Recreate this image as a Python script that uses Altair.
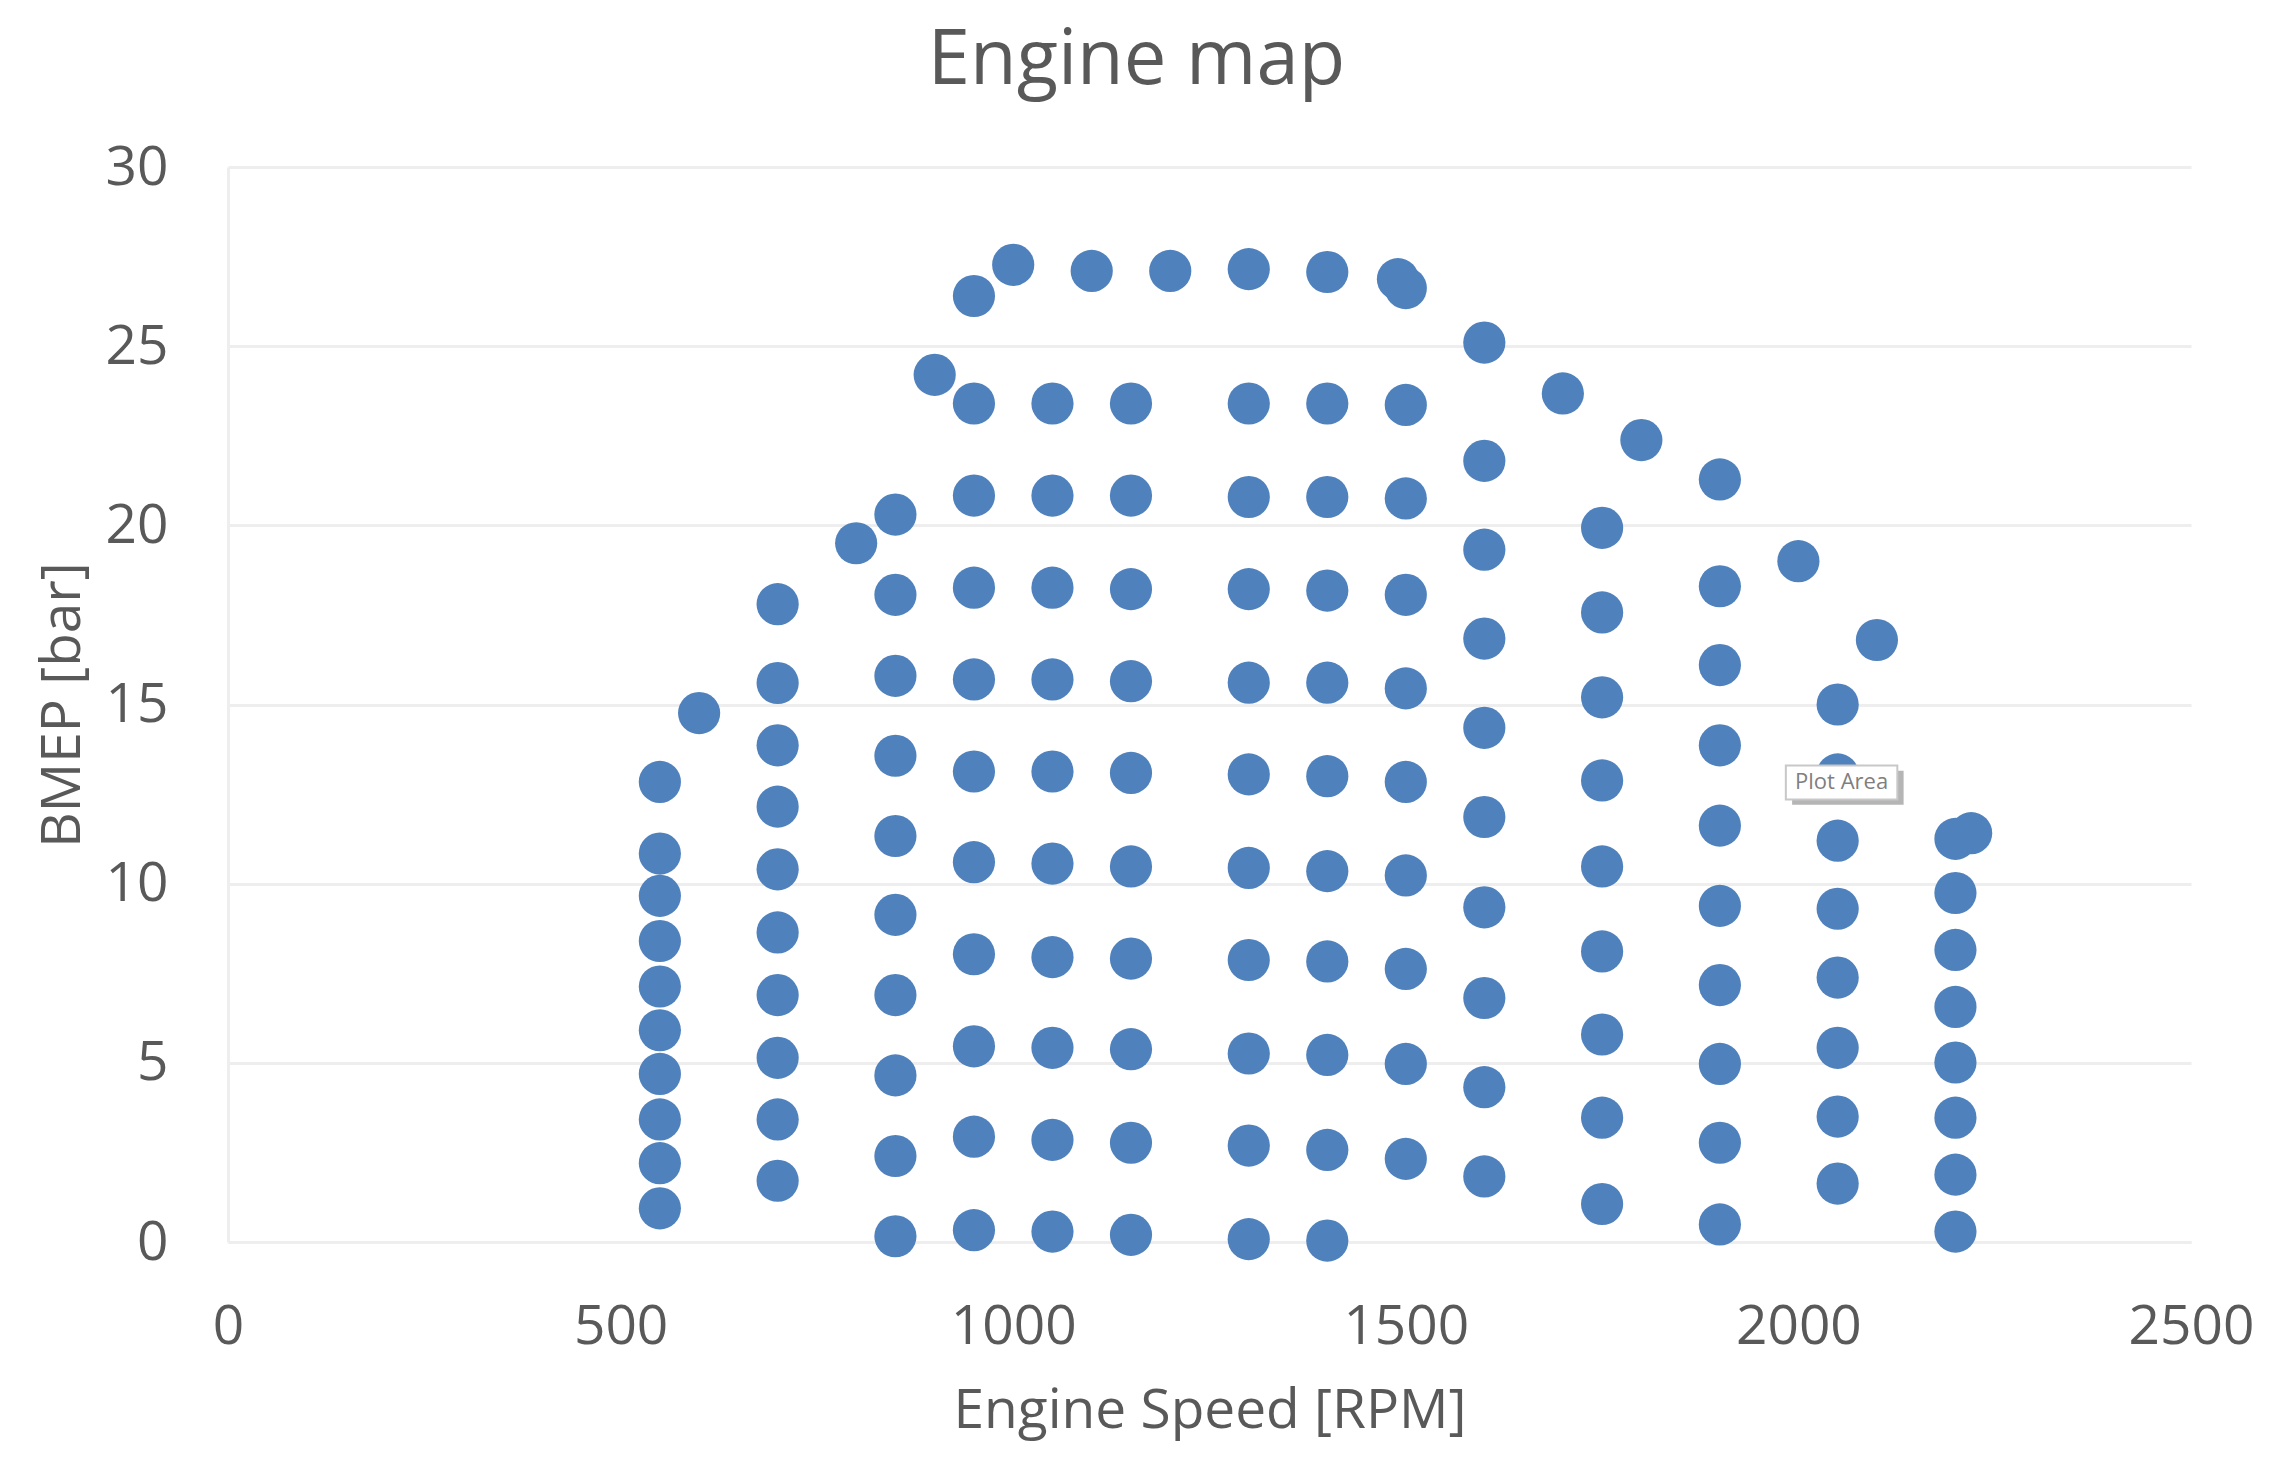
import altair as alt
import pandas as pd

# BMEP readings per engine speed column
speeds = [550, 600, 700, 800, 850, 900, 950, 1000, 1050, 1100, 1150, 1200, 1300, 1400,
          1490, 1500, 1600, 1700, 1750, 1800, 1900, 2000, 2050, 2100, 2200, 2220]
bmep = [
    [12.84, 10.84, 9.66, 8.40, 7.13, 5.91, 4.69, 3.42, 2.20, 0.94],
    [14.76],
    [17.8, 15.6, 13.86, 12.15, 10.4, 8.64, 6.89, 5.14, 3.42, 1.71],
    [19.5],
    [20.3, 18.06, 15.8, 13.57, 11.33, 9.13, 6.89, 4.65, 2.4, 0.16],
    [24.2],
    [26.4, 23.4, 20.83, 18.26, 15.7, 13.13, 10.6, 8.03, 5.46, 2.94, 0.33],
    [27.27],
    [23.4, 20.83, 18.26, 15.7, 13.13, 10.56, 7.95, 5.42, 2.85, 0.29],
    [27.1],
    [23.4, 20.83, 18.22, 15.65, 13.09, 10.48, 7.91, 5.38, 2.77, 0.2],
    [27.1],
    [27.15, 23.4, 20.79, 18.22, 15.61, 13.05, 10.44, 7.87, 5.26, 2.69, 0.08],
    [27.07, 23.4, 20.79, 18.18, 15.61, 13.0, 10.35, 7.83, 5.22, 2.57, 0.04],
    [26.87],
    [26.62, 23.36, 20.75, 18.06, 15.45, 12.84, 10.23, 7.62, 4.97, 2.32],
    [25.1, 21.8, 19.32, 16.84, 14.35, 11.86, 9.34, 6.81, 4.32, 1.83],
    [23.68],
    [19.93, 17.57, 15.2, 12.88, 10.48, 8.11, 5.79, 3.47, 1.06],
    [22.38],
    [21.28, 18.3, 16.1, 13.86, 11.62, 9.38, 7.17, 4.97, 2.77, 0.49],
    [19.0],
    [15.0, 13.05, 11.2, 9.3, 7.38, 5.42, 3.5, 1.63],
    [16.8],
    [11.25, 9.74, 8.15, 6.56, 5.01, 3.47, 1.88, 0.29],
    [11.41],
]

rows = []
for s, vals in zip(speeds, bmep):
    for v in vals:
        rows.append({"speed": s, "bmep": v})
df = pd.DataFrame(rows)

FONT = "Open Sans"
TEXT = "#595959"
GRID = "#eeeeee"

x_scale = alt.Scale(domain=[0, 2500], nice=False)
y_scale = alt.Scale(domain=[0, 30], nice=False)

points = alt.Chart(df).mark_circle(size=1780, color="#4f81bd", opacity=1).encode(
    x=alt.X("speed:Q", scale=x_scale, title="Engine Speed [RPM]",
            axis=alt.Axis(values=[0, 500, 1000, 1500, 2000, 2500], format="d", grid=False, ticks=False,
                          domainColor=GRID, domainWidth=3, labelFontSize=55, labelColor=TEXT,
                          labelFont=FONT, labelPadding=58, labelFlush=False,
                          titleFontSize=55, titleColor=TEXT, titleFont=FONT,
                          titleFontWeight="normal", titlePadding=30)),
    y=alt.Y("bmep:Q", scale=y_scale, title="BMEP [bar]",
            axis=alt.Axis(values=[0, 5, 10, 15, 20, 25, 30], gridColor=GRID, gridWidth=3, ticks=False,
                          domainColor=GRID, domainWidth=3, labelFontSize=55, labelColor=TEXT,
                          labelFont=FONT, labelPadding=60, titleFontSize=55, titleColor=TEXT,
                          titleFont=FONT, titleFontWeight="normal", titlePadding=14)),
)

# the "Plot Area" hover label left in the screenshot
note = pd.DataFrame({"x": [1984], "x2": [2126], "y": [13.3], "y2": [12.35],
                     "sx": [1992], "sx2": [2134], "sy": [13.15], "sy2": [12.2],
                     "label": ["Plot Area"], "tx": [2055], "ty": [12.83]})
shadow = alt.Chart(note).mark_rect(color="#b5b5b5").encode(
    x=alt.X("sx:Q", scale=x_scale), x2="sx2:Q", y=alt.Y("sy:Q", scale=y_scale), y2="sy2:Q")
box = alt.Chart(note).mark_rect(color="white", stroke="#c8c8c8", strokeWidth=2).encode(
    x=alt.X("x:Q", scale=x_scale), x2="x2:Q", y=alt.Y("y:Q", scale=y_scale), y2="y2:Q")
label = alt.Chart(note).mark_text(font=FONT, fontSize=22, color="#7f7f7f").encode(
    x=alt.X("tx:Q", scale=x_scale), y=alt.Y("ty:Q", scale=y_scale), text="label:N")

chart = alt.layer(points, shadow, box, label).properties(
    width=1963,
    height=1075,
    title=alt.TitleParams("Engine map", font=FONT, fontSize=76, fontWeight="normal", color=TEXT,
                          anchor="middle", frame="group", dx=-73, offset=40),
    autosize=alt.AutoSizeParams(type="none"),
    padding={"left": 220, "top": 159, "right": 92, "bottom": 202},
    background="white",
).configure_view(strokeWidth=0)

chart.save("out.html", embed_options={"renderer": "svg", "actions": False})
